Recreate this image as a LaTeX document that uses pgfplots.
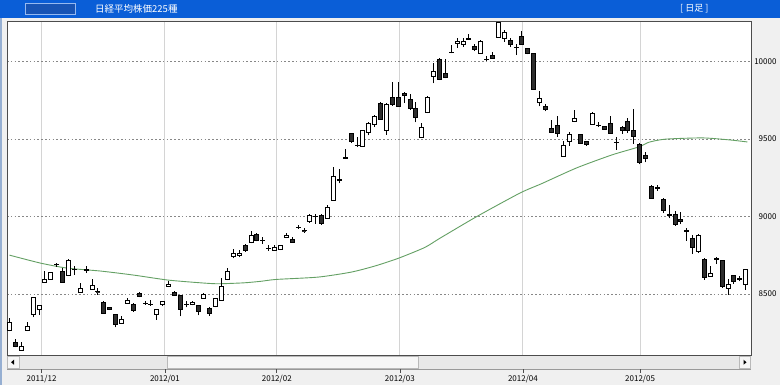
\documentclass[border=0pt]{standalone}
\usepackage{fontspec}
\setmainfont{Noto Sans CJK JP}
\usepackage{pgfplots}
\usepackage{pgfplotstable}
\pgfplotsset{compat=1.18}
\definecolor{titleblue}{RGB}{10,94,215}
\definecolor{boxblue}{RGB}{24,84,180}
\definecolor{boxedge}{RGB}{150,185,240}
\definecolor{panel}{RGB}{240,240,240}
\definecolor{magreen}{RGB}{100,160,100}
\definecolor{candleblack}{RGB}{45,45,45}
\definecolor{monthgrid}{RGB}{212,212,212}
\definecolor{dotgrid}{RGB}{135,135,135}
\definecolor{track}{RGB}{232,232,232}
\definecolor{thumb}{RGB}{246,246,246}
\definecolor{leftline}{RGB}{150,175,210}
\pgfdeclareplotmark{nothing}{}
\pgfplotstableread{
i o h l c
0 8263 8343 8258 8314
1 8185 8207 8155 8164
2 8138 8192 8133 8164
3 8263 8317 8260 8289
4 8371 8476 8349 8476
5 8401 8431 8364 8429
6 8575 8651 8572 8597
7 8597 8645 8595 8640
8 8694 8703 8677 8692
9 8645 8666 8573 8573
10 8623 8726 8616 8720
11 8660 8681 8623 8661
12 8511 8573 8509 8537
13 8657 8681 8634 8655
14 8532 8595 8526 8558
15 8516 8537 8494 8515
16 8448 8453 8371 8375
17 8412 8414 8396 8401
18 8366 8371 8284 8302
19 8312 8355 8308 8334
20 8442 8474 8440 8459
21 8431 8440 8384 8396
22 8506 8511 8478 8483
23 8442 8457 8431 8440
24 8433 8459 8424 8431
25 8366 8403 8334 8399
26 8431 8453 8420 8453
27 8547 8586 8545 8565
28 8511 8517 8489 8491
29 8489 8496 8355 8399
30 8435 8457 8414 8431
31 8435 8457 8427 8448
32 8425 8431 8362 8388
33 8474 8506 8470 8500
34 8409 8414 8360 8377
35 8420 8474 8414 8470
36 8457 8604 8455 8550
37 8594 8666 8590 8644
38 8745 8789 8730 8763
39 8750 8784 8737 8763
40 8817 8821 8774 8780
41 8832 8909 8827 8881
42 8888 8892 8840 8845
43 8849 8871 8823 8845
44 8797 8817 8780 8793
45 8784 8817 8780 8799
46 8789 8817 8784 8812
47 8866 8892 8860 8877
48 8853 8866 8830 8834
49 8933 8946 8920 8931
50 8910 8925 8896 8908
51 8968 9015 8961 9011
52 9002 9015 8953 9000
53 9011 9015 8948 8953
54 8989 9075 8985 9058
55 9107 9319 9103 9258
56 9241 9310 9215 9237
57 9384 9435 9371 9375
58 9535 9539 9474 9485
59 9463 9517 9448 9461
60 9453 9560 9448 9554
61 9545 9610 9524 9599
62 9593 9657 9578 9647
63 9729 9737 9625 9629
64 9560 9733 9528 9726
65 9770 9867 9716 9722
66 9770 9867 9707 9711
67 9798 9802 9733 9780
68 9755 9793 9690 9700
69 9700 9737 9608 9640
70 9511 9604 9506 9578
71 9675 9776 9668 9770
72 9907 9994 9860 9935
73 10015 10026 9881 9886
74 9922 10015 9892 9896
75 10060 10108 10054 10058
76 10120 10155 10091 10130
77 10112 10151 10095 10134
78 10153 10181 10142 10147
79 10101 10112 10069 10080
80 10054 10138 10052 10134
81 10015 10037 10004 10013
82 10043 10063 10019 10022
83 10155 10259 10155 10255
84 10151 10203 10129 10188
85 10138 10155 10095 10112
86 10095 10116 10043 10093
87 10166 10199 10108 10112
88 10084 10091 10047 10052
89 10052 10058 9820 9823
90 9737 9808 9711 9765
91 9711 9729 9679 9694
92 9567 9621 9539 9545
93 9586 9651 9517 9535
94 9392 9489 9390 9463
95 9485 9543 9457 9528
96 9612 9690 9610 9636
97 9528 9532 9470 9474
98 9485 9491 9457 9468
99 9597 9675 9593 9668
100 9592 9608 9578 9590
101 9582 9588 9560 9565
102 9604 9647 9535 9539
103 9479 9513 9431 9477
104 9578 9582 9535 9560
105 9614 9636 9539 9560
106 9560 9694 9470 9517
107 9466 9472 9337 9350
108 9397 9414 9350 9376
109 9197 9204 9114 9118
110 9187 9204 9167 9185
111 9114 9118 9022 9043
112 9013 9075 8989 9011
113 9015 9037 8942 8951
114 8983 9028 8951 8968
115 8908 8925 8844 8906
116 8861 8882 8758 8801
117 8775 8887 8764 8876
118 8726 8732 8593 8608
119 8614 8678 8612 8636
120 8728 8736 8693 8726
121 8715 8721 8539 8550
122 8535 8599 8496 8560
123 8618 8625 8565 8582
124 8599 8614 8582 8597
125 8560 8661 8528 8657
}\candles
\pgfplotstableread{
i ma
0 8751
5.2 8700
9.8 8667
15.5 8648
21.1 8622
26.9 8590
32.5 8572
35.4 8566
39.8 8572
42.7 8582
45.3 8594
52.4 8609
58 8641
62 8680
66 8730
70.5 8800
73.1 8860
79.4 9001
86.7 9152
90.4 9213
96.3 9314
102.3 9398
106.9 9450
108.6 9480
111.4 9500
117.7 9508
122.3 9495
125.3 9482
}\mavg
\begin{document}
\begin{tikzpicture}[x=1pt,y=1pt]
% panel background
\fill[panel] (0,0) rectangle (780,385);
% title bar
\fill[titleblue] (0,367) rectangle (780,385);
\draw[draw=boxedge, fill=boxblue, line width=0.8pt] (25,371) rectangle (75,382);
\node[anchor=west, text=white, inner sep=0pt, font=\fontsize{9.5}{10}\selectfont] at (95,376) {日経平均株価225種};
\node[anchor=west, text=white, inner sep=0pt, font=\fontsize{9}{10}\selectfont] at (680,376) {[ 日足 ]};
% left frame line
\draw[draw=leftline, line width=2pt] (1,0) -- (1,367);
% scrollbar
\fill[track] (7,16) rectangle (751,29);
\draw[draw=gray!80, line width=0.7pt] (7,16) -- (751,16);
\draw[draw=gray!55, fill=thumb, line width=0.6pt] (167,17) rectangle (418,28.5);
\draw[draw=gray!55, fill=thumb, line width=0.6pt] (7.5,17) rectangle (19,28.5);
\draw[draw=gray!55, fill=thumb, line width=0.6pt] (739,17) rectangle (750.5,28.5);
\fill[black] (11,22.75) -- (14,25.25) -- (14,20.25) -- cycle;
\fill[black] (746.5,22.75) -- (743.5,25.25) -- (743.5,20.25) -- cycle;
% month ticks under scrollbar
\foreach \tx in {41.6,164.9,276.8,399.9,523.0,640.1} {
  \draw[draw=black!70, line width=0.7pt] (\tx,12) -- (\tx,16);
}
\begin{axis}[
  at={(7pt,30pt)}, anchor=south west,
  scale only axis, width=744pt, height=334pt,
  xmin=-0.42, xmax=125.93, ymin=8106, ymax=10263,
  axis background/.style={fill=white},
  axis line style={draw=black!70, line width=0.9pt},
  xtick={5.45,26.4,45.4,66.3,87.2,107.1},
  xticklabels={2011/12,2012/01,2012/02,2012/03,2012/04,2012/05},
  ytick={8500,9000,9500,10000},
  yticklabels={8500,9000,9500,10000},
  scaled y ticks=false,
  yticklabel pos=right,
  major tick length=0pt,
  xmajorgrids, ymajorgrids,
  x grid style={draw=monthgrid, line width=1.1pt},
  y grid style={draw=dotgrid, line width=0.8pt, dash pattern=on 1.6pt off 2.2pt},
  tick label style={font=\fontsize{8}{9}\selectfont, text=black},
  xticklabel style={yshift=-17pt},
  yticklabel style={anchor=east, xshift=29pt},
]
\addplot[draw=magreen, line width=0.9pt, smooth, tension=0.4] table[x=i, y=ma] {\mavg};
\addplot[scatter, only marks, mark=nothing,
  visualization depends on={\thisrow{o} \as \cO},
  visualization depends on={\thisrow{h} \as \cH},
  visualization depends on={\thisrow{l} \as \cL},
  visualization depends on={\thisrow{c} \as \cC},
  scatter/@pre marker code/.code={%
    \begingroup
      \pgfkeys{/pgf/fpu=true,/pgf/fpu/output format=fixed}%
      \pgfmathparse{(\cH-\cO)*0.154845}\xdef\gyH{\pgfmathresult}%
      \pgfmathparse{(\cL-\cO)*0.154845}\xdef\gyL{\pgfmathresult}%
      \pgfmathparse{(\cC-\cO)*0.154845}\xdef\gyC{\pgfmathresult}%
    \endgroup
    \draw[draw=black, line width=0.7pt] (0pt,\gyL pt) -- (0pt,\gyH pt);%
    \ifdim\gyC pt<0pt
      \draw[draw=black, fill=candleblack, line width=0.7pt] (-2pt,0pt) rectangle (2pt,\gyC pt);%
    \else
      \draw[draw=black, fill=white, line width=0.7pt] (-2pt,0pt) rectangle (2pt,\gyC pt);%
    \fi
  },
  scatter/@post marker code/.code={},
] table[x=i, y=o] {\candles};
\end{axis}
\pgfresetboundingbox
\useasboundingbox (0,0) rectangle (780,385);
\end{tikzpicture}
\end{document}
